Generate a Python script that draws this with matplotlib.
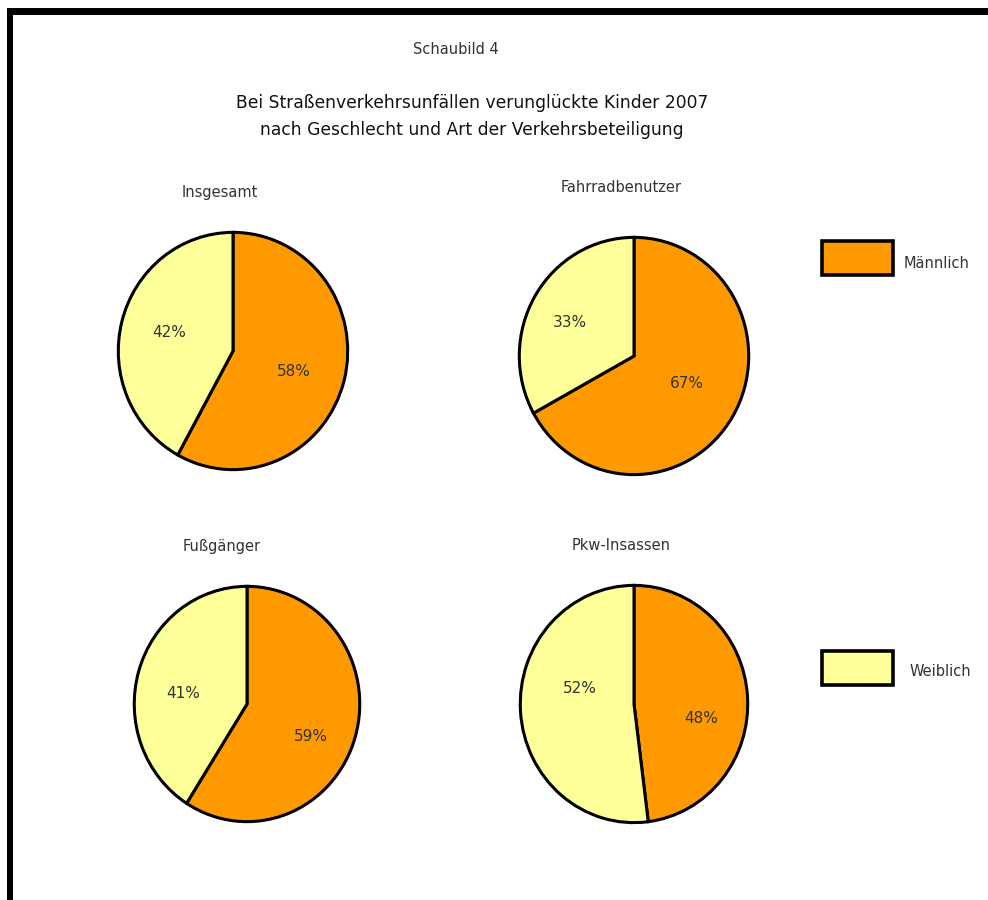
import matplotlib
matplotlib.use("Agg")
import matplotlib.pyplot as plt
from matplotlib.patches import Rectangle

plt.rcParams['font.family'] = ['Liberation Sans Narrow', 'DejaVu Sans']

# Data
panels = ["Insgesamt", "Fahrradbenutzer", "Fußgänger", "Pkw-Insassen"]
genders = ["Männlich", "Weiblich"]
maennlich = [58, 67, 59, 48]
weiblich = [42, 33, 41, 52]
colors = ["#FF9900", "#FFFF99"]

W, H = 988, 900
fig = plt.figure(figsize=(W / 100, H / 100), dpi=100)
fig.patch.set_facecolor("white")

def fx(x):
    return x / W

def fy(y):
    return 1 - y / H

# Frame lines (top and left)
fig.patches.append(Rectangle((fx(7), fy(15)), fx(988) - fx(7), (15 - 8) / H,
                             transform=fig.transFigure, facecolor="black",
                             edgecolor="none", zorder=5))
fig.patches.append(Rectangle((fx(7), 0), 6 / W, fy(8),
                             transform=fig.transFigure, facecolor="black",
                             edgecolor="none", zorder=5))

txt = "#333333"
fig.text(fx(456), fy(50), "Schaubild 4", ha="center", va="center",
         fontsize=10.5, color=txt)
fig.text(fx(472), fy(103), "Bei Straßenverkehrsunfällen verunglückte Kinder 2007",
         ha="center", va="center", fontsize=12.3, color="#111111")
fig.text(fx(472), fy(130), "nach Geschlecht und Art der Verkehrsbeteiligung",
         ha="center", va="center", fontsize=12.3, color="#111111")

# Pie layout: (center x, center y, radius x, radius y, title x, title y)
layout = [
    (233, 351, 117, 121, 220, 193),
    (634, 356, 117, 121, 621, 187),
    (247, 704, 115, 120, 222, 547),
    (634, 704, 116, 121, 621, 546),
]
# Percentage label placement inside each pie (axes units: male, female)
label_xy = [
    [(0.53, -0.17), (-0.56, 0.16)],
    [(0.46, -0.23), (-0.56, 0.28)],
    [(0.57, -0.28), (-0.57, 0.09)],
    [(0.59, -0.12), (-0.48, 0.13)],
]

for i, name in enumerate(panels):
    cx, cy, rx, ry, tx, ty = layout[i]
    ax = fig.add_axes([fx(cx - rx), fy(cy + ry), 2 * rx / W, 2 * ry / H])
    vals = [maennlich[i], weiblich[i]]
    _, _, autotexts = ax.pie(
        vals, colors=colors, startangle=90, counterclock=False,
        autopct=lambda p: f"{round(p):d}%", pctdistance=0.57, radius=1,
        wedgeprops=dict(edgecolor="black", linewidth=2.2),
        textprops=dict(fontsize=11, color=txt))
    for t, pos in zip(autotexts, label_xy[i]):
        t.set_position(pos)
    ax.set_aspect("auto")
    ax.set_xlim(-1.02, 1.02)
    ax.set_ylim(-1.02, 1.02)
    ax.axis("off")
    fig.text(fx(tx), fy(ty), name, ha="center", va="center",
             fontsize=10.5, color=txt)

# Legend keys
legend_pos = [(822, 241, 904, 263), (822, 651, 910, 671)]
for (bx, by, lx, ly), g, c in zip(legend_pos, genders, colors):
    fig.patches.append(Rectangle((fx(bx), fy(by + 34)), 71 / W, 34 / H,
                                 transform=fig.transFigure, facecolor=c,
                                 edgecolor="black", linewidth=2.6))
    fig.text(fx(lx), fy(ly), g, ha="left", va="center", fontsize=10.5,
             color=txt)

fig.savefig("out.png", dpi=100)
